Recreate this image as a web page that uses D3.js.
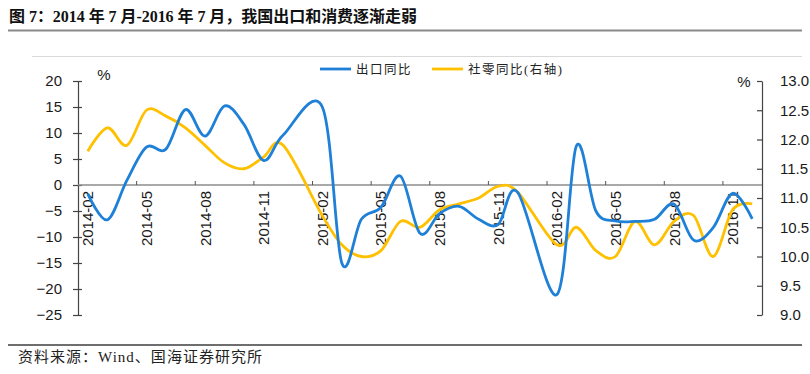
<!DOCTYPE html>
<html>
<head>
<meta charset="utf-8">
<script src="https://cdn.jsdelivr.net/npm/d3@7"></script>
<style>
  body { margin: 0; background: #fff; }
  svg { display: block; }
</style>
</head>
<body>
<div id="chart"></div>
<script>
var svgWidth = 810;
var svgHeight = 374;

// categories (monthly) and the two series
var months = [
  "2014-02", "2014-03", "2014-04", "2014-05", "2014-06", "2014-07", "2014-08", "2014-09", "2014-10", "2014-11", "2014-12",
  "2015-01", "2015-02", "2015-03", "2015-04", "2015-05", "2015-06", "2015-07", "2015-08", "2015-09", "2015-10", "2015-11", "2015-12",
  "2016-01", "2016-02", "2016-03", "2016-04", "2016-05", "2016-06", "2016-07", "2016-08", "2016-09", "2016-10", "2016-11", "2016-12"
];
// 出口同比 (left axis), January merged into Jan-Feb -> empty
var exportYoY = [
  -1.7, -6.7, 0.9, 7.3, 6.9, 14.5, 9.4, 15.2, 11.6, 4.7, 9.6,
  null, 15.0, -15.0, -6.6, -4.3, 1.7, -9.3, -5.5, -4.1, -6.6, -7.6, -1.4,
  null, -21.1, 7.5, -5.0, -6.9, -7.0, -6.6, -3.7, -10.6, -8.2, -1.6, -6.5
];
// 社零同比 (right axis)
var retailYoY = [
  11.8, 12.2, 11.9, 12.5, 12.4, 12.2, 11.9, 11.6, 11.5, 11.7, 11.9,
  null, 10.7, 10.2, 10.0, 10.1, 10.6, 10.5, 10.8, 10.9, 11.0, 11.2, 11.1,
  null, 10.2, 10.5, 10.1, 10.0, 10.6, 10.2, 10.6, 10.7, 10.0, 10.8, 10.9
];
var leftTicks = [-25, -20, -15, -10, -5, 0, 5, 10, 15, 20];
var rightTicks = [9.0, 9.5, 10.0, 10.5, 11.0, 11.5, 12.0, 12.5, 13.0];
var labelMonths = months.filter(function(m, i) { return i % 3 === 0; });

var seriesNames = ["出口同比", "社零同比(右轴)"];
var blue = "#1f80d8";
var yellow = "#ffc000";

var plot = { left: 78, right: 762, top: 81, bottom: 315 };

var svg = d3.select("#chart")
  .append("svg")
  .attr("width", svgWidth)
  .attr("height", svgHeight);

var serifCJK = "'Liberation Serif', 'Times New Roman', 'Noto Sans CJK SC', serif";
var sans = "'Liberation Sans', Arial, sans-serif";

// title
svg.append("text")
  .attr("x", 9)
  .attr("y", 22)
  .attr("textLength", 408)
  .attr("lengthAdjust", "spacing")
  .style("font-family", serifCJK)
  .style("font-weight", "bold")
  .style("font-size", "16px")
  .attr("fill", "#111")
  .text("图 7：2014 年 7 月-2016 年 7 月，我国出口和消费逐渐走弱");

svg.append("line")
  .attr("x1", 8).attr("x2", 802)
  .attr("y1", 30.5).attr("y2", 30.5)
  .attr("stroke", "#8a8a8a")
  .attr("stroke-width", 2);

svg.append("line")
  .attr("x1", 32).attr("x2", 802)
  .attr("y1", 56.5).attr("y2", 56.5)
  .attr("stroke", "#d9d9d9")
  .attr("stroke-width", 1);

// bottom rule + source
svg.append("line")
  .attr("x1", 8).attr("x2", 802)
  .attr("y1", 345).attr("y2", 345)
  .attr("stroke", "#6e6e6e")
  .attr("stroke-width", 2);

svg.append("text")
  .attr("x", 18)
  .attr("y", 362)
  .attr("textLength", 244)
  .attr("lengthAdjust", "spacing")
  .style("font-family", serifCJK)
  .style("font-size", "15px")
  .attr("fill", "#222")
  .text("资料来源：Wind、国海证券研究所");

// scales
var xBand = d3.scaleBand()
  .domain(months)
  .range([plot.left, plot.right])
  .padding(0);
var xc = function(m) { return xBand(m) + xBand.bandwidth() / 2; };

var yLeft = d3.scaleLinear()
  .domain([-25, 20])
  .range([plot.bottom, plot.top]);

var yRight = d3.scaleLinear()
  .domain([9, 13])
  .range([plot.bottom, plot.top]);

// left axis
var leftAxis = d3.axisLeft(yLeft)
  .tickValues(leftTicks)
  .tickSizeInner(4)
  .tickSizeOuter(0)
  .tickPadding(12);

var gLeft = svg.append("g")
  .attr("transform", "translate(" + plot.left + ",0)")
  .call(leftAxis);

// right axis (ticks point inside)
var rightAxis = d3.axisRight(yRight)
  .tickValues(rightTicks)
  .tickFormat(d3.format(".1f"))
  .tickSizeInner(-5)
  .tickSizeOuter(0)
  .tickPadding(18);

var gRight = svg.append("g")
  .attr("transform", "translate(" + plot.right + ",0)")
  .call(rightAxis);

[gLeft, gRight].forEach(function(g) {
  g.select(".domain").attr("stroke", "#444").attr("stroke-width", 1.2);
  g.selectAll(".tick line").attr("stroke", "#444").attr("stroke-width", 1.2);
  g.selectAll(".tick text")
    .style("font-family", sans)
    .style("font-size", "15px")
    .attr("fill", "#1a1a1a");
});
// left ticks cross the axis line
gLeft.selectAll(".tick line").attr("x1", 4).attr("x2", -5);

// units
svg.append("text")
  .attr("x", 104).attr("y", 80)
  .attr("text-anchor", "middle")
  .style("font-family", sans).style("font-size", "15px")
  .attr("fill", "#1a1a1a")
  .text("%");

svg.append("text")
  .attr("x", 744).attr("y", 87)
  .attr("text-anchor", "middle")
  .style("font-family", sans).style("font-size", "15px")
  .attr("fill", "#1a1a1a")
  .text("%");

// zero line acts as category axis
var y0 = yLeft(0);
svg.append("line")
  .attr("x1", plot.left).attr("x2", plot.right)
  .attr("y1", y0).attr("y2", y0)
  .attr("stroke", "#8c8c8c")
  .attr("stroke-width", 1.6);

var tickMonths = months.filter(function(m, i) { return i % 3 === 0 && i > 0; });
svg.append("g")
  .selectAll("line")
  .data(tickMonths)
  .enter()
  .append("line")
  .attr("x1", d => xBand(d)).attr("x2", d => xBand(d))
  .attr("y1", y0 - 4).attr("y2", y0)
  .attr("stroke", "#555")
  .attr("stroke-width", 1);

svg.append("g")
  .selectAll("text")
  .data(labelMonths)
  .enter()
  .append("text")
  .attr("transform", d => "translate(" + (xc(d) + 5.5) + "," + (y0 + 6) + ") rotate(-90)")
  .attr("text-anchor", "end")
  .style("font-family", sans)
  .style("font-size", "15px")
  .attr("fill", "#1a1a1a")
  .text(d => d);

// lines (empty January values are skipped, curve joins neighbours)
function drawSeries(values, yScale, color) {
  var pts = months
    .map(function(m, i) { return { m: m, v: values[i] }; })
    .filter(function(d) { return d.v !== null; });

  var line = d3.line()
    .x(d => xc(d.m))
    .y(d => yScale(d.v))
    .curve(d3.curveCatmullRom.alpha(0));

  svg.append("path")
    .datum(pts)
    .attr("d", line)
    .attr("fill", "none")
    .attr("stroke", color)
    .attr("stroke-width", 2.8)
    .attr("stroke-linejoin", "round");
}

drawSeries(retailYoY, yRight, yellow);
drawSeries(exportYoY, yLeft, blue);

// legend
var legend = svg.append("g");
var legendItems = [
  { name: seriesNames[0], color: blue, x: 320 },
  { name: seriesNames[1], color: yellow, x: 432 }
];
legendItems.forEach(function(item) {
  legend.append("line")
    .attr("x1", item.x).attr("x2", item.x + 31)
    .attr("y1", 69).attr("y2", 69)
    .attr("stroke", item.color)
    .attr("stroke-width", 2.8);
  legend.append("text")
    .attr("x", item.x + 36)
    .attr("y", 74)
    .style("font-family", serifCJK)
    .style("font-size", "12.5px")
    .style("letter-spacing", "1.5px")
    .attr("fill", "#222")
    .text(item.name);
});
</script>
</body>
</html>
